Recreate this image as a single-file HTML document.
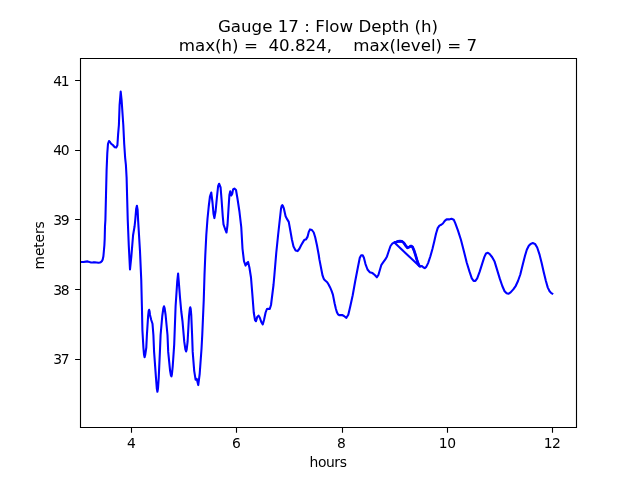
<!DOCTYPE html>
<html><head><meta charset="utf-8"><title>Gauge 17</title>
<style>
html,body{margin:0;padding:0;background:#fff;}
body{width:640px;height:480px;overflow:hidden;}
svg{display:block;}
text{font-family:"DejaVu Sans","Liberation Sans",sans-serif;fill:#000;}
</style></head><body>
<svg width="640" height="480" viewBox="0 0 640 480">
<rect width="640" height="480" fill="#fff"/>
<clipPath id="c"><rect x="80" y="57.6" width="496" height="369.6"/></clipPath>
<g clip-path="url(#c)" fill="none" stroke="#0000ff" stroke-width="2.08" stroke-linejoin="round" stroke-linecap="butt">
<path d="M79.00,262.00 L83.50,262.00 L86.00,261.60 L87.60,261.40 L89.50,262.10 L91.00,262.50 L93.00,262.40 L94.75,262.20 L96.50,262.50 L98.50,262.80 L100.00,262.50 L101.00,262.00 L102.00,261.00 L102.70,259.50 L103.40,256.25 L103.85,251.25 L104.40,245.00 L104.70,238.75 L105.00,226.25 L105.40,220.00 L106.00,195.00 L106.60,170.00 L107.30,153.10 L108.00,143.75 L109.00,141.00 L110.00,142.00 L111.10,143.75 L113.00,145.20 L114.80,147.30 L116.25,147.50 L117.40,145.20 L118.10,134.40 L118.90,125.00 L119.60,105.00 L120.70,91.50 L121.60,100.00 L123.30,125.00 L124.20,143.75 L125.15,157.80 L125.90,165.00 L126.60,177.50 L127.75,220.00 L128.75,245.00 L130.00,269.40 L131.25,257.50 L133.10,235.00 L134.60,226.25 L135.25,220.00 L136.20,208.70 L136.90,205.80 L137.60,209.60 L138.10,220.00 L140.00,251.25 L141.25,280.00 L141.90,306.25 L142.40,330.00 L143.40,347.50 L144.00,354.50 L144.60,357.20 L145.20,355.00 L146.30,347.50 L146.90,335.00 L148.10,316.25 L148.70,310.80 L149.10,309.80 L149.50,311.00 L150.00,315.00 L151.25,320.00 L152.50,323.75 L153.40,335.00 L154.10,351.90 L156.00,378.10 L156.80,388.50 L157.40,391.80 L158.00,388.50 L158.70,378.10 L159.90,351.90 L160.60,335.00 L162.25,316.25 L163.40,308.00 L164.00,306.30 L164.60,308.00 L165.60,315.00 L167.50,335.00 L168.20,351.90 L170.10,370.80 L170.90,375.30 L171.40,376.40 L171.90,374.50 L172.70,366.50 L174.20,344.60 L175.60,306.25 L177.25,281.25 L178.10,273.50 L178.75,281.25 L180.00,297.50 L181.25,311.25 L182.50,321.25 L184.25,341.70 L185.40,349.50 L186.10,351.50 L186.70,349.50 L187.60,341.70 L189.00,316.25 L189.80,308.80 L190.25,307.30 L190.70,308.80 L191.25,315.00 L192.10,335.00 L192.70,351.90 L194.20,370.80 L195.60,379.60 L196.80,378.90 L198.25,385.10 L199.70,373.75 L201.50,349.00 L202.25,335.00 L203.75,300.00 L204.50,275.00 L205.30,255.00 L206.30,235.00 L207.50,218.75 L208.75,206.25 L210.00,196.25 L211.25,192.50 L212.50,202.50 L213.50,213.75 L214.40,218.10 L215.60,211.25 L216.90,197.50 L218.10,186.25 L219.10,183.75 L220.60,187.50 L221.60,200.00 L222.75,216.25 L223.50,224.40 L225.00,228.75 L226.50,232.50 L227.50,225.00 L228.50,208.75 L229.40,195.00 L230.25,191.25 L231.25,195.60 L232.25,193.75 L233.10,189.40 L234.40,188.50 L236.00,190.00 L237.50,198.75 L239.40,211.25 L241.25,227.00 L242.50,248.75 L244.00,261.25 L245.60,265.60 L246.90,263.10 L248.10,261.90 L249.40,267.50 L251.00,277.50 L252.50,296.25 L253.75,312.50 L255.00,320.00 L256.00,321.25 L257.25,316.90 L258.50,315.60 L259.75,317.50 L261.25,321.90 L262.75,324.40 L264.00,320.00 L265.60,312.50 L266.90,309.00 L268.10,308.75 L269.75,309.00 L271.00,305.00 L272.25,295.00 L273.50,285.00 L274.40,275.00 L276.25,253.00 L278.10,235.00 L279.75,220.00 L281.00,208.75 L281.70,205.80 L282.30,205.00 L282.90,205.80 L283.75,208.10 L285.60,216.25 L287.25,219.40 L288.75,221.90 L290.00,228.75 L291.90,239.50 L293.50,246.60 L295.60,250.50 L297.60,251.10 L299.40,248.75 L301.25,245.00 L303.10,241.90 L304.40,239.75 L306.00,239.40 L307.50,236.90 L308.75,231.90 L310.00,229.40 L311.90,230.00 L313.75,232.50 L315.25,237.50 L316.90,245.00 L318.75,255.00 L319.40,259.40 L321.45,270.00 L322.60,275.70 L323.80,278.80 L324.90,280.30 L327.20,282.20 L328.60,284.50 L330.00,287.20 L331.50,290.60 L332.90,294.60 L334.60,303.20 L335.80,308.50 L336.90,312.20 L338.00,314.30 L339.20,315.10 L342.10,315.00 L344.00,316.00 L346.40,317.80 L348.30,314.80 L350.30,306.25 L352.70,295.30 L355.20,281.25 L357.90,267.20 L359.80,257.80 L361.20,255.20 L362.70,255.20 L363.90,257.80 L365.50,264.10 L367.50,269.50 L369.70,272.20 L372.50,273.10 L374.80,275.00 L376.90,277.30 L378.40,275.00 L380.00,269.50 L381.40,264.80 L383.30,262.20 L385.30,259.40 L387.00,256.40 L388.70,251.25 L390.50,246.00 L392.30,243.60 L394.25,242.40 L396.25,242.00 L398.10,241.40 L400.00,241.20 L401.90,241.40 L403.75,242.75 L405.60,245.60 L407.50,247.75 L409.40,246.90 L411.00,246.00 L412.50,246.90 L414.10,250.60 L415.50,255.00 L416.80,259.40 L418.00,263.10 L419.30,265.80 L420.60,266.60 L421.90,266.00 L423.50,267.50 L424.75,268.10 L426.25,266.90 L428.10,263.10 L430.40,256.25 L432.50,248.75 L434.30,241.25 L436.00,233.75 L437.70,228.10 L439.40,225.60 L441.25,224.80 L442.90,223.50 L444.75,220.90 L446.60,219.40 L449.00,219.40 L451.50,218.80 L453.75,219.75 L455.25,223.10 L458.00,230.60 L461.00,240.00 L463.90,251.25 L466.70,262.50 L469.60,271.90 L471.80,278.40 L473.60,280.90 L475.40,280.90 L477.20,278.40 L479.60,271.90 L482.30,263.40 L484.40,256.90 L486.00,253.50 L487.90,252.75 L489.75,254.10 L492.20,257.25 L494.60,261.60 L496.90,269.10 L499.70,278.40 L502.30,286.00 L504.60,291.25 L506.60,293.30 L508.40,293.80 L510.60,292.40 L513.30,289.40 L515.80,285.80 L518.00,281.00 L520.30,274.50 L522.70,264.80 L525.00,255.80 L526.80,249.70 L528.80,245.75 L530.60,243.90 L532.80,243.10 L535.00,243.90 L537.20,247.50 L539.40,254.10 L541.60,262.80 L543.75,272.30 L545.90,281.00 L547.80,287.60 L549.60,291.25 L551.30,293.10 L553.20,294.20"/>
<path d="M394.40,242.60 L418.75,265.60"/>
<path d="M394.25,242.40 L396.25,242.00 L398.10,241.40 L400.00,241.20 L401.90,241.40 L403.75,242.75 L405.60,245.60 L407.50,247.75 L409.40,246.90 L411.00,246.00 L412.50,246.90 L414.10,250.60 L415.50,255.00 L416.80,259.40 L418.00,263.10 L419.30,265.80 L420.60,266.60" stroke-width="2.7"/>
</g>
<g stroke="#000" stroke-width="1.11" fill="none">
<path d="M80.5,58.5H576.5V427.5H80.5Z"/>
</g>
<g stroke="#000" stroke-width="1.11">
<path d="M131.5,427.2v5.5M236.5,427.2v5.5M342.5,427.2v5.5M447.5,427.2v5.5M552.5,427.2v5.5"/>
<path d="M80,80.5h-4.9M80,150.5h-4.9M80,219.5h-4.9M80,289.5h-4.9M80,359.5h-4.9"/>
</g>
<g font-size="13.89px" text-anchor="middle">
<text x="131.3" y="448.4">4</text><text x="236.5" y="448.4">6</text><text x="341.5" y="448.4">8</text><text x="447.2" y="448.4" letter-spacing="-0.3">10</text><text x="552.1" y="448.4" letter-spacing="-0.6">12</text>
</g>
<text font-size="13.89px" text-anchor="middle" letter-spacing="-0.4" x="328.0" y="467.1">hours</text>
<g font-size="13.89px" text-anchor="end" letter-spacing="-1.2">
<text x="68.4" y="85.8">41</text><text x="68.4" y="154.6">40</text><text x="68.4" y="225.4">39</text><text x="68.4" y="295.1">38</text><text x="68.4" y="363.8">37</text>
</g>
<text font-size="13.89px" text-anchor="middle" letter-spacing="-0.15" transform="translate(44,245.4) rotate(-90)">meters</text>
<g font-size="16.67px" text-anchor="middle">
<text x="328" y="32" xml:space="preserve">Gauge 17 : Flow Depth (h)</text>
<text x="328" y="51" xml:space="preserve">max(h) =  40.824,    max(level) = 7</text>
</g>
</svg>
</body></html>
